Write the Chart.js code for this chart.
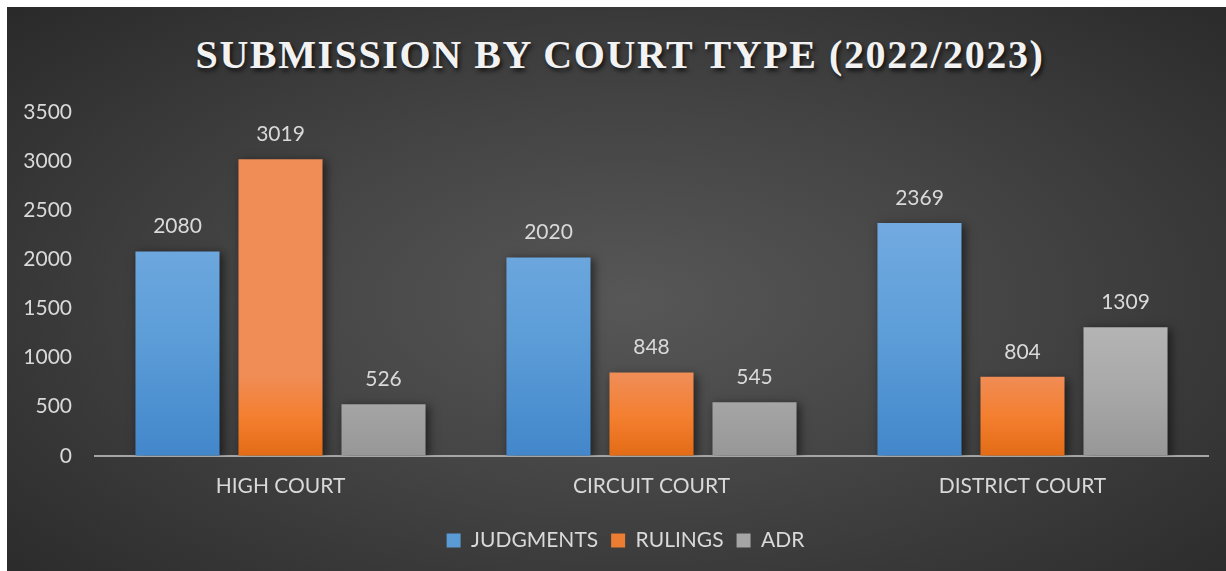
<!DOCTYPE html>
<html lang="en">
<head>
  <meta charset="UTF-8" />
  <title>Submission by Court Type (2022/2023)</title>
  <style>
    body { margin: 0; background: #fff; width: 1226px; height: 571px; overflow: hidden; position: relative; }
    .panel {
      position: absolute; left: 7px; top: 7px; width: 1219px; height: 564px;
      background: radial-gradient(ellipse 70% 75% at 51% 52%, #575757 0%, #444 45%, #2a2a2a 100%);
    }
    .panel h1 {
      position: absolute; left: 7px; right: 0; top: 24px; margin: 0;
      text-align: center; color: #f2f2f2;
      font: bold 40px "Liberation Serif", serif; letter-spacing: 1.6px;
      text-shadow: 2px 3px 4px rgba(0,0,0,0.7);
    }
    canvas { position: absolute; left: 0; top: 0; }
  </style>
</head>
<body>
  <div class="panel">
    <h1>SUBMISSION BY COURT TYPE (2022/2023)</h1>
    <canvas id="chart" width="1219" height="564"></canvas>
  </div>

  <script src="https://cdn.jsdelivr.net/npm/chart.js"></script>
  <script>
    const courts = ['HIGH COURT', 'CIRCUIT COURT', 'DISTRICT COURT'];
    const judgments = [2080, 2020, 2369];
    const rulings = [3019, 848, 804];
    const adr = [526, 545, 1309];

    const textColor = '#d9d9d9';
    const font = { family: 'Lato, "Open Sans", sans-serif', size: 21 };

    // top / middle / bottom colour of each series' bar gradient
    const shades = [
      ['#72aae0', '#5c9dd8', '#4387cb'],
      ['#f08c55', '#f47f30', '#e36b16'],
      ['#b4b4b4', '#a8a8a8', '#979797']
    ];

    // per-bar vertical gradient, plus a soft shadow
    const barLook = {
      id: 'barLook',
      afterLayout(chart) {
        // legend sits a little right of the canvas centre
        chart.legend.left += 10;
        chart.legend.right += 10;
      },
      beforeDatasetDraw(chart, args) {
        const ctx = chart.ctx;
        const [top, mid, bottom] = shades[args.index];
        args.meta.data.forEach(bar => {
          const g = ctx.createLinearGradient(0, bar.y, 0, bar.base);
          g.addColorStop(0, top);
          g.addColorStop(0.5, mid);
          g.addColorStop(1, bottom);
          bar.options.backgroundColor = g;
        });
        ctx.save();
        ctx.shadowColor = 'rgba(0,0,0,0.55)';
        ctx.shadowBlur = 9;
        ctx.shadowOffsetX = 3;
        ctx.shadowOffsetY = 2;
      },
      afterDatasetDraw(chart) {
        chart.ctx.restore();
      },
      afterDatasetsDraw(chart) {
        const ctx = chart.ctx;
        ctx.save();
        ctx.fillStyle = textColor;
        ctx.font = '21px ' + font.family;
        ctx.textAlign = 'center';
        ctx.textBaseline = 'middle';
        chart.data.datasets.forEach((ds, i) => {
          chart.getDatasetMeta(i).data.forEach((bar, j) => {
            ctx.fillText(ds.data[j], bar.x, bar.y - 25);
          });
        });
        ctx.restore();
      }
    };

    new Chart(document.getElementById('chart'), {
      type: 'bar',
      data: {
        labels: courts,
        datasets: [
          { label: 'JUDGMENTS', data: judgments, backgroundColor: '#5b9bd5' },
          { label: 'RULINGS', data: rulings, backgroundColor: '#ed7d31' },
          { label: 'ADR', data: adr, backgroundColor: '#a5a5a5' }
        ]
      },
      options: {
        responsive: false,
        animation: false,
        categoryPercentage: 0.833,
        barPercentage: 0.816,
        layout: { padding: { left: 16, right: 18, top: 105, bottom: 10 } },
        scales: {
          x: {
            grid: { display: false, drawTicks: false },
            border: { display: true, color: '#a6a6a6', width: 2 },
            ticks: { color: textColor, font: font, padding: 18 }
          },
          y: {
            min: 0,
            max: 3500,
            grid: { display: false, drawTicks: false },
            border: { display: false },
            ticks: { stepSize: 500, color: textColor, font: font, padding: 23, callback: v => String(v) },
            afterFit(scale) { scale.width = 72; }
          }
        },
        plugins: {
          legend: {
            position: 'bottom',
            labels: { color: textColor, font: font, boxWidth: 14, boxHeight: 14, padding: 13 }
          },
          tooltip: { enabled: false }
        }
      },
      plugins: [barLook]
    });
  </script>
</body>
</html>
